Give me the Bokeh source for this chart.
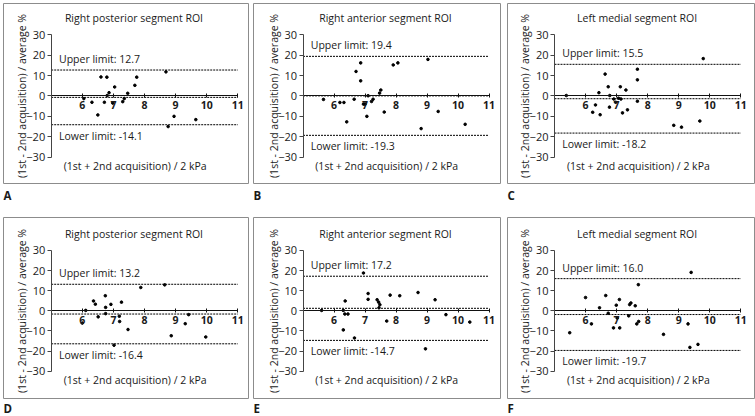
from bokeh.plotting import figure
from bokeh.models import Range1d, LinearAxis, FixedTicker, Label, Title
from bokeh.layouts import column, row
from bokeh.embed import file_html
from bokeh.resources import INLINE

# ---------------- data ----------------
titles = ["Right posterior segment ROI", "Right anterior segment ROI", "Left medial segment ROI",
          "Right posterior segment ROI", "Right anterior segment ROI", "Left medial segment ROI"]
letters = ["A", "B", "C", "D", "E", "F"]
upper = [12.7, 19.4, 15.5, 13.2, 17.2, 16.0]
lower = [-14.1, -19.3, -18.2, -16.4, -14.7, -19.7]
bias = [-0.7, 0.05, -1.35, -1.6, 1.25, -1.85]
x_ticks = [6, 7, 8, 9, 10, 11]
y_ticks = [-30, -20, -10, 0, 10, 20, 30]
x_label = "(1st + 2nd acquisition) / 2 kPa"
y_label = "(1st - 2nd acquisition) / average %"

a_x = [6.05, 6.31, 6.50, 6.60, 6.71, 6.79, 6.80, 6.86, 6.98, 7.04, 7.30, 7.35, 7.46, 7.69, 7.75, 8.69, 8.76, 8.95, 9.65]
a_y = [-1.3, -3.1, -9.3, 9.3, -3.1, 9.2, 0.2, 1.6, -3.5, 4.4, -2.8, -1.3, 1.3, 5.2, 9.2, 11.8, -15.0, -10.0, -11.6]

b_x = [5.66, 6.19, 6.32, 6.41, 6.65, 6.71, 6.86, 6.86, 6.95, 7.00, 7.06, 7.10, 7.21, 7.26, 7.47, 7.51, 7.62, 7.91, 8.06, 8.81, 9.03, 9.36, 10.23]
b_y = [-1.7, -3.2, -3.2, -12.7, -1.6, 12.0, 16.2, 7.4, -4.0, -4.0, -10.0, 0.1, -2.7, -1.6, 1.4, 2.9, -7.9, 15.2, 16.2, -16.0, 17.9, -7.6, -13.9]

c_x = [5.38, 6.23, 6.32, 6.43, 6.47, 6.63, 6.73, 6.77, 6.78, 6.91, 6.97, 7.06, 7.12, 7.14, 7.19, 7.30, 7.35, 7.67, 7.67, 7.67, 8.84, 9.09, 9.68, 9.79]
c_y = [0.2, -8.0, -4.4, 1.6, -9.2, 10.7, 4.5, -5.5, 0.2, -1.5, -3.1, -1.1, 4.5, -1.5, -8.3, 2.9, -6.8, 13.1, 7.9, -2.6, -14.4, -15.3, -12.3, 18.3]

d_x = [6.00, 6.11, 6.36, 6.42, 6.51, 6.74, 6.75, 6.75, 6.92, 7.02, 7.19, 7.20, 7.26, 7.47, 7.88, 8.65, 8.86, 9.31, 9.42, 9.97]
d_y = [-6.1, 0.2, 4.9, 3.3, -3.0, 7.5, 1.7, -1.4, 3.2, -17.1, -2.7, -5.3, 4.3, -9.3, 11.6, 12.9, -12.4, -6.4, -1.9, -13.0]

e_x = [5.60, 6.30, 6.30, 6.36, 6.35, 6.45, 6.66, 6.95, 7.10, 7.10, 7.39, 7.44, 7.48, 7.45, 7.70, 7.81, 8.12, 8.71, 8.95, 9.26, 9.61, 10.38]
e_y = [0.2, 0.2, -9.5, 4.9, -1.6, -1.6, -13.5, 18.8, 8.6, 5.7, 5.5, 4.3, 3.0, 1.5, -5.1, 7.8, 7.5, 9.1, -18.9, 5.5, -1.9, -5.6]

f_x = [5.49, 6.00, 6.19, 6.45, 6.65, 6.73, 6.90, 6.99, 7.02, 7.09, 7.10, 7.39, 7.42, 7.46, 7.60, 7.65, 7.71, 7.70, 8.51, 9.30, 9.36, 9.40, 9.62]
f_y = [-10.9, 6.6, -6.5, 1.5, 7.6, -1.2, -8.5, 2.8, -3.6, 5.6, -8.5, -2.5, 3.1, 3.9, 2.5, -6.5, -5.3, 13.0, -11.7, -6.5, -18.2, 19.1, -16.7]

xs = [a_x, b_x, c_x, d_x, e_x, f_x]
ys = [a_y, b_y, c_y, d_y, e_y, f_y]

# ---------------- layout / styling ----------------
FONT = "Open Sans"
TXT = "#1a1a1a"
X_LO, X_HI = 5, 11
Y_LO, Y_HI = -30, 30

# per column: left border, frame width, right border, x range
col_left = [3, 3, 4]
col_frame = [245, 247, 247]
col_right = [2, 3, 1]
col_xrange = [(3.466, 11.344), (3.403, 11.37), (3.487, 11.44)]
# per row: top border, frame height, bottom border, y range, letter standoff
row_top = [3, 0]
row_frame = [180, 183]
row_bottom = [34, 15]
row_yrange = [(-42.9, 45.3), (-43.6, 46.4)]
row_letter_standoff = [5, 0]


def make_panel(i):
    c = i % 3
    r = i // 3
    w = col_left[c] + col_frame[c] + col_right[c]
    h = row_top[r] + row_frame[r] + row_bottom[r]
    p = figure(width=w, height=h,
               x_range=Range1d(*col_xrange[c]), y_range=Range1d(*row_yrange[r]),
               output_backend="svg", toolbar_location=None,
               x_axis_location=None, y_axis_location=None,
               min_border_left=col_left[c], min_border_right=col_right[c],
               min_border_top=row_top[r], min_border_bottom=row_bottom[r],
               title=None)
    p.xgrid.grid_line_color = None
    p.ygrid.grid_line_color = None
    p.outline_line_color = "#8c8c8c"
    p.outline_line_width = 1
    p.background_fill_color = "white"
    p.border_fill_color = "white"

    # x axis crossing at y = 0
    xa = LinearAxis(fixed_location=0, bounds=(X_LO, X_HI),
                    ticker=FixedTicker(ticks=x_ticks),
                    major_label_text_font=FONT, major_label_text_font_size="10.5px",
                    major_label_text_font_style="bold", major_label_text_color=TXT,
                    major_label_standoff=3,
                    major_tick_in=2, major_tick_out=2,
                    minor_tick_line_color=None,
                    axis_line_color="#111111", major_tick_line_color="#111111")
    p.add_layout(xa, "below")

    ya = LinearAxis(fixed_location=X_LO, bounds=(Y_LO, Y_HI),
                    ticker=FixedTicker(ticks=y_ticks),
                    axis_label=y_label, axis_label_standoff=-5,
                    axis_label_text_font=FONT, axis_label_text_font_size="10.5px",
                    axis_label_text_font_style="normal", axis_label_text_color=TXT,
                    major_label_text_font=FONT, major_label_text_font_size="11px",
                    major_label_text_color=TXT, major_label_standoff=2,
                    major_tick_in=0, major_tick_out=4,
                    minor_tick_line_color=None,
                    axis_line_color="#444444", major_tick_line_color="#444444")
    p.add_layout(ya, "left")

    # limits of agreement and bias lines
    levels = [upper[i], bias[i], lower[i]]
    p.segment(x0=[X_LO] * 3, x1=[X_HI] * 3, y0=levels, y1=levels,
              line_color="black", line_width=1, line_dash="2 1")

    # points
    p.scatter(xs[i], ys[i], size=2.6, color="black")

    # texts
    p.add_layout(Label(x=5.25, y=upper[i], y_offset=4, text=f"Upper limit: {upper[i]}",
                       text_baseline="bottom", text_font=FONT, text_font_size="10.5px",
                       text_color=TXT))
    p.add_layout(Label(x=5.25, y=lower[i], y_offset=-4, text=f"Lower limit: {lower[i]}",
                       text_baseline="top", text_font=FONT, text_font_size="10.5px",
                       text_color=TXT))
    p.add_layout(Label(x=7.66, y=38.3, text=titles[i], text_align="center",
                       text_baseline="middle", text_font=FONT, text_font_size="10.5px",
                       text_color=TXT))
    p.add_layout(Label(x=7.70, y=-34.5, text=x_label, text_align="center",
                       text_baseline="middle", text_font=FONT, text_font_size="10.5px",
                       text_color=TXT))
    p.add_layout(Title(text=letters[i], align="left", text_font=FONT,
                       text_font_size="11.5px", text_font_style="bold",
                       text_color=TXT, standoff=row_letter_standoff[r], offset=0), "below")
    return p


panels = [make_panel(i) for i in range(6)]
layout = column(row(*panels[:3]), row(*panels[3:]))

open("out.html", "w").write(file_html(layout, INLINE))
